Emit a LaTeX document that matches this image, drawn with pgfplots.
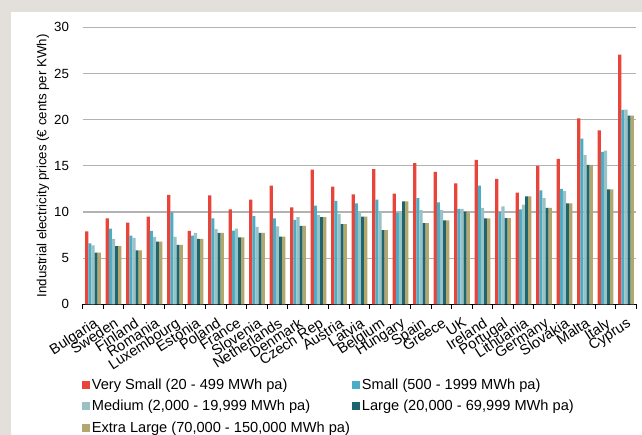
\documentclass[border=0pt]{standalone}
\usepackage{fontspec}
\setmainfont{Liberation Sans}
\usepackage{pgfplots}
\usepackage{pgfplotstable}
\pgfplotsset{compat=1.18}
\definecolor{bgray}{RGB}{227,223,219}
\definecolor{cVS}{RGB}{232,68,58}
\definecolor{cS}{RGB}{75,172,198}
\definecolor{cM}{RGB}{152,194,197}
\definecolor{cL}{RGB}{30,101,110}
\definecolor{cXL}{RGB}{180,167,110}
\definecolor{gridc}{RGB}{178,178,178}
\pgfplotstableread[col sep=comma]{
idx,name,vs,s,m,l,xl
0,Bulgaria,7.9,6.6,6.4,5.6,5.6
1,Sweden,9.3,8.2,7.1,6.3,6.3
2,Finland,8.85,7.45,7.2,5.85,5.85
3,Romania,9.5,7.95,7.3,6.8,6.8
4,Luxembourg,11.85,9.95,7.3,6.45,6.45
5,Estonia,7.95,7.45,7.75,7.1,7.1
6,Poland,11.8,9.3,8.15,7.75,7.75
7,France,10.3,8.0,8.2,7.25,7.25
8,Slovenia,11.35,9.55,8.4,7.75,7.75
9,Netherlands,12.85,9.3,8.45,7.35,7.35
10,Denmark,10.5,9.15,9.45,8.5,8.5
11,Czech Rep,14.6,10.7,9.7,9.45,9.45
12,Austria,12.75,11.2,9.8,8.7,8.7
13,Latvia,11.9,10.95,9.95,9.5,9.5
14,Belgium,14.65,11.35,10.05,8.05,8.05
15,Hungary,12.0,9.9,10.05,11.15,11.15
16,Spain,15.3,11.5,10.2,8.8,8.8
17,Greece,14.35,11.05,10.2,9.1,9.1
18,UK,13.1,10.35,10.35,10.05,10.05
19,Ireland,15.65,12.85,10.45,9.3,9.3
20,Portugal,13.6,10.0,10.6,9.35,9.35
21,Lithuania,12.1,10.3,10.8,11.7,11.7
22,Germany,15.0,12.35,11.5,10.45,10.45
23,Slovakia,15.75,12.5,12.25,10.95,10.95
24,Malta,20.15,17.95,16.15,15.1,15.1
25,Italy,18.85,16.5,16.65,12.45,12.45
26,Cyprus,27.05,21.05,21.1,20.45,20.45
}\datatable
\pgfplotsset{sq/.style={legend image code/.code={\fill[##1] (0pt,-4pt) rectangle (8pt,4pt);}}}
\newcommand{\fs}{\fontsize{13.3pt}{16pt}\selectfont}
\newcommand{\fx}{\fontsize{14.6pt}{17pt}\selectfont}
\newcommand{\fl}{\fontsize{14.6pt}{17pt}\selectfont}
\begin{document}
\begin{tikzpicture}
\useasboundingbox (0,0) rectangle (642pt,435pt);
\fill[bgray] (0,0) rectangle (642pt,435pt);
\fill[white] (11pt,0) rectangle (642pt,423pt);
\begin{axis}[
  at={(82.7pt,130.6pt)}, anchor=south west,
  scale only axis, width=553.5pt, height=277.1pt,
  xmin=-0.5, xmax=26.5, ymin=0, ymax=30,
  ytick={0,5,...,30},
  xtick={0,...,26},
  xticklabels from table={\datatable}{name},
  minor xtick={-0.5,0.5,...,26.5},
  major x tick style={draw=none},
  minor x tick style={black, line width=1pt},
  minor tick length=4.5pt,
  major tick length=0pt,
  tick align=outside,
  ytick style={draw=none},
  axis x line*=bottom,
  axis y line*=left,
  y axis line style={draw=none},
  x axis line style={black, line width=1.2pt},
  ymajorgrids,
  grid style={gridc, line width=1.3pt},
  /pgf/number format/assume math mode=true,
  yticklabel style={font=\fs, anchor=east, inner sep=0pt, xshift=-13.5pt},
  xticklabel style={font=\fx, yshift=-12.5pt, xshift=0pt, rotate=33, anchor=north east, inner sep=0pt},
  ylabel={Industrial electricity prices (€ cents per KWh)},
  every axis y label/.style={at={(axis description cs:0,0.5)}, xshift=-39.7pt, rotate=90, anchor=center, font=\fs},
  ybar=0pt, bar width=3.13pt,
  legend columns=2,
  legend cell align=left,
  legend style={draw=none, fill=none, at={(0,0)}, anchor=north west, xshift=-1pt, yshift=-72pt,
    inner sep=0pt, font=\fl, row sep=5.6pt,
    /tikz/every even column/.append style={column sep=0pt}},
]
\addplot[fill=cVS, draw=none, sq] table[x=idx, y=vs]{\datatable};
\addlegendentry{\makebox[225pt][l]{Very Small (20 - 499 MWh pa)}}
\addplot[fill=cS, draw=none, sq] table[x=idx, y=s]{\datatable};
\addlegendentry{Small (500 - 1999 MWh pa)}
\addplot[fill=cM, draw=none, sq] table[x=idx, y=m]{\datatable};
\addlegendentry{Medium (2,000 - 19,999 MWh pa)}
\addplot[fill=cL, draw=none, sq] table[x=idx, y=l]{\datatable};
\addlegendentry{Large (20,000 - 69,999 MWh pa)}
\addplot[fill=cXL, draw=none, sq] table[x=idx, y=xl]{\datatable};
\addlegendentry{Extra Large (70,000 - 150,000 MWh pa)}
\end{axis}
\end{tikzpicture}
\end{document}
